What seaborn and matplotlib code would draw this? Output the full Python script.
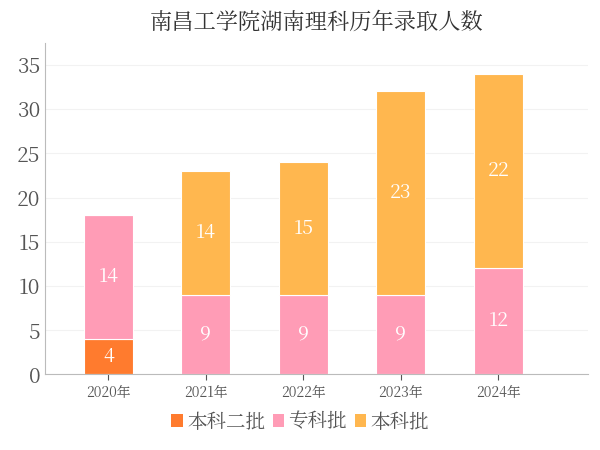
import matplotlib
matplotlib.use("Agg")
import matplotlib.pyplot as plt
from matplotlib import font_manager as fm
import seaborn as sns
import numpy as np
from matplotlib.patches import Patch

cjk = [f.name for f in fm.fontManager.ttflist if "CJK" in f.name]
pref = [n for n in cjk if "SC" in n] or cjk
plt.rcParams["font.family"] = "sans-serif"
plt.rcParams["font.sans-serif"] = (pref[:1] if pref else []) + ["Noto Sans CJK SC", "DejaVu Sans"]

years = ["2020年", "2021年", "2022年", "2023年", "2024年"]
erpi = [4, 0, 0, 0, 0]
zhuanke = [14, 9, 9, 9, 12]
benke = [0, 14, 15, 23, 22]
names = ["本科二批", "专科批", "本科批"]
colors = ["#FF7B2E", "#FF9CB6", "#FFB74F"]

fig, ax = plt.subplots(figsize=(6, 4.5), dpi=100)
fig.subplots_adjust(left=0.075, right=0.98, top=0.905, bottom=0.168)

bottom = np.zeros(len(years))
for vals, c in zip([erpi, zhuanke, benke], colors):
    v = np.array(vals, dtype=float)
    sns.barplot(x=years, y=v, bottom=bottom, color=c, width=0.5, ax=ax,
                saturation=1, edgecolor="white", linewidth=0.8)
    for i, (b, h) in enumerate(zip(bottom, v)):
        if h > 0:
            ax.text(i, b + h / 2, f"{int(h)}", ha="center", va="center",
                    color="white", fontsize=14)
    bottom += v

ax.set_ylim(0, 37.5)
ax.set_xlim(-0.65, 4.92)
ax.set_yticks(range(0, 40, 5))
ax.tick_params(axis="y", labelsize=15, colors="#555555", length=0)
ax.tick_params(axis="x", labelsize=10, colors="#555555", length=4)
ax.yaxis.grid(True, color="#f2f2f2", linewidth=0.8)
ax.set_axisbelow(True)
for s in ["top", "right"]:
    ax.spines[s].set_visible(False)
for s in ["left", "bottom"]:
    ax.spines[s].set_color("#bbbbbb")
ax.set_title("南昌工学院湖南理科历年录取人数", fontsize=16, color="#333333", pad=10)

handles = [Patch(facecolor=c, label=n) for c, n in zip(colors, names)]
fig.legend(handles=handles, loc="lower center", ncol=3, frameon=False,
           fontsize=14, handlelength=0.6, handleheight=0.6, handletextpad=0.2,
           columnspacing=0.4, bbox_to_anchor=(0.5, 0.0), labelcolor="#555555")

fig.savefig("out.png", dpi=100)
